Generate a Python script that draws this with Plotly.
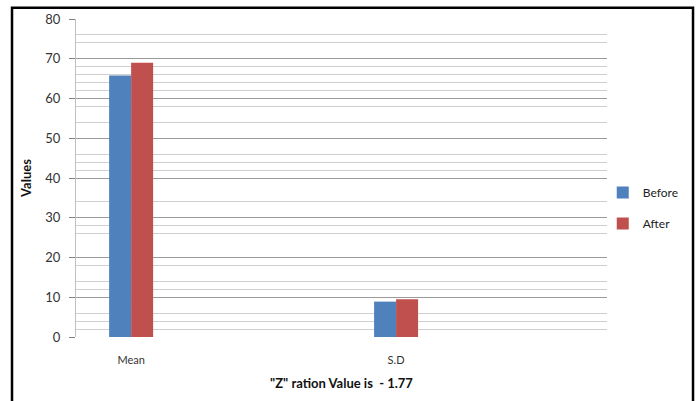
import plotly.graph_objects as go

categories = ["Mean", "S.D"]
before_vals = [65.8, 8.9]
after_vals = [69.0, 9.5]
series_names = ["Before", "After"]
major_ticks = [0, 10, 20, 30, 40, 50, 60, 70, 80]
minor_grid = [2, 4, 6, 12, 14, 18, 26, 28, 34, 42, 44, 46, 54, 58, 62, 64, 66, 68, 74, 76]
x_title = '"Z" ration Value is  - 1.77'
y_title = "Values"

FONT = "Lato, 'Liberation Sans', sans-serif"

fig = go.Figure()
fig.add_trace(go.Bar(x=categories, y=before_vals, name=series_names[0],
                     marker=dict(color="#4F81BD", line=dict(width=0)),
                     legendgroup="a"))
fig.add_trace(go.Bar(x=categories, y=after_vals, name=series_names[1],
                     marker=dict(color="#C0504D", line=dict(width=0)),
                     legendgroup="b"))

fig.update_layout(
    width=699, height=401,
    margin=dict(l=76, r=92, t=19, b=64),
    paper_bgcolor="white", plot_bgcolor="white",
    font=dict(family=FONT, size=12, color="#222"),
    barmode="group", bargap=0.834, bargroupgap=0,
    legend=dict(x=0.992, y=0.50, xanchor="left", yanchor="top",
                traceorder="grouped", tracegroupgap=12,
                font=dict(size=12, color="#222"), itemwidth=30,
                bgcolor="rgba(0,0,0,0)"),
    xaxis=dict(type="category", range=[-0.208, 1.796], showline=False,
               showgrid=False, ticks="", ticklabelstandoff=15,
               tickfont=dict(size=11, color="#333"),
               title=dict(text="<b>" + x_title + "</b>", standoff=13,
                          font=dict(size=13, color="#111"))),
    yaxis=dict(range=[0, 80], tickvals=major_ticks, showgrid=True,
               gridcolor="#9a9a9a", gridwidth=1, zeroline=False,
               showline=True, linecolor="#c0c0c0", linewidth=1,
               ticks="outside", ticklen=6, tickcolor="#808080",
               ticklabelstandoff=6,
               tickfont=dict(size=13, color="#333"),
               minor=dict(tickvals=minor_grid, showgrid=True,
                          gridcolor="#cfcfcf", gridwidth=1, ticks=""),
               title=dict(text="<b>" + y_title + "</b>", standoff=10,
                          font=dict(size=13, color="#111"))),
    shapes=[dict(type="rect", xref="paper", yref="paper",
                 x0=-0.1205, x1=1.162, y0=-0.25, y1=1.035,
                 line=dict(color="black", width=2.5), fillcolor="rgba(0,0,0,0)")],
)

fig.write_html("out.html", config={"displayModeBar": False},
               post_script="document.body.style.margin='0';")
